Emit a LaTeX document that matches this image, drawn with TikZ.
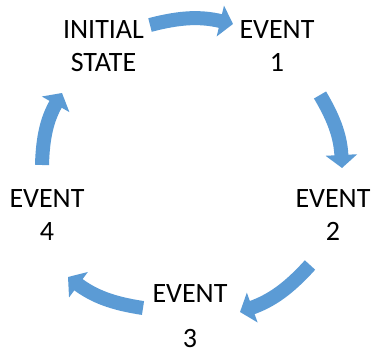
\documentclass[tikz,border=0pt]{standalone}
\usepackage{fontspec}
\setmainfont{Carlito}
\usetikzlibrary{arrows.meta}
\definecolor{arrowblue}{HTML}{5B9BD5}
\begin{document}
\begin{tikzpicture}[x=1pt,y=1pt,
  lbl/.style={align=center, inner sep=0pt, font=\fontsize{28}{33}\selectfont},
  flow/.style={draw=arrowblue, line width=14pt, -{Triangle[length=13pt,width=31pt]}, bend left=14}]
\useasboundingbox (0,0) rectangle (372,355);
\node[lbl] (init) at (103.5,309) {INITIAL\\STATE};
\node[lbl] (ev1) at (277,309) {EVENT\\1};
\node[lbl] (ev2) at (333,140) {EVENT\\2};
\node[lbl] (ev3) at (190,38.5) {EVENT\\[12pt]3};
\node[lbl] (ev4) at (47,140) {EVENT\\4};
\coordinate (a1s) at (150,330);
\coordinate (a1e) at (233,331);
\coordinate (a2s) at (320,260);
\coordinate (a2e) at (342,187);
\coordinate (a3s) at (310,90);
\coordinate (a3e) at (240,43);
\coordinate (a4s) at (143,47);
\coordinate (a4e) at (68,78);
\coordinate (a5s) at (42,190);
\coordinate (a5e) at (62,262);
\draw[flow] (a1s) to (a1e);
\draw[flow] (a2s) to (a2e);
\draw[flow] (a3s) to (a3e);
\draw[flow] (a4s) to (a4e);
\draw[flow] (a5s) to (a5e);
\end{tikzpicture}
\end{document}
